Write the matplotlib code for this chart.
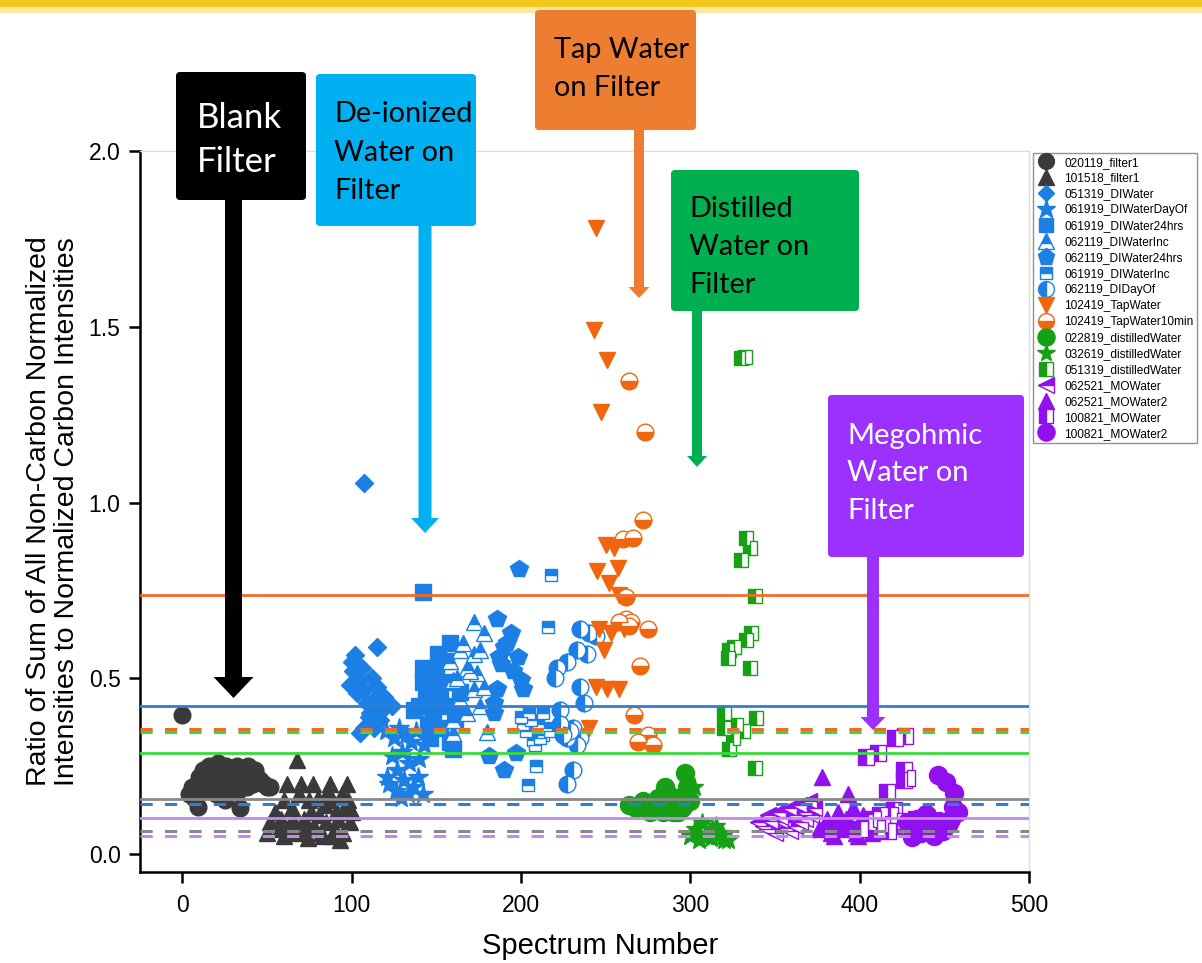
import matplotlib
matplotlib.use("Agg")
import matplotlib.pyplot as plt
from matplotlib.patches import FancyBboxPatch, FancyArrow, Rectangle

# ---------------- data ----------------
labels = ["020119_filter1", "101518_filter1", "051319_DIWater", "061919_DIWaterDayOf",
          "061919_DIWater24hrs", "062119_DIWaterInc", "062119_DIWater24hrs", "061919_DIWaterInc",
          "062119_DIDayOf", "102419_TapWater", "102419_TapWater10min", "022819_distilledWater",
          "032619_distilledWater", "051319_distilledWater", "062521_MOWater", "062521_MOWater2",
          "100821_MOWater", "100821_MOWater2"]

x1 = [0, 4, 6, 7, 9, 10, 11, 12, 13, 14, 15, 16, 17, 18, 19, 20, 21, 22, 23, 24, 25, 26, 27, 28, 29,
      31, 32, 33, 34, 35, 36, 37, 38, 39, 40, 41, 42, 43, 44, 46, 48, 50, 52]
y1 = [0.395, 0.17, 0.19, 0.16, 0.135, 0.22, 0.20, 0.24, 0.18, 0.23, 0.21, 0.25, 0.19, 0.22, 0.24, 0.17,
      0.26, 0.20, 0.23, 0.21, 0.155, 0.25, 0.22, 0.19, 0.24, 0.21, 0.25, 0.18, 0.13, 0.20, 0.24, 0.22,
      0.19, 0.25, 0.21, 0.23, 0.20, 0.24, 0.22, 0.21, 0.20, 0.19, 0.19]

x2 = [50, 52, 55, 57, 58, 60, 62, 63, 65, 67, 68, 69, 70, 72, 73, 75, 76, 77, 78, 80, 81, 82, 84, 85,
      86, 87, 88, 90, 91, 92, 94, 95, 96, 97, 98, 99, 100, 60, 66, 74, 83, 89, 93]
y2 = [0.06, 0.09, 0.12, 0.07, 0.10, 0.155, 0.20, 0.08, 0.13, 0.06, 0.268, 0.17, 0.20, 0.10, 0.07, 0.155,
      0.12, 0.20, 0.08, 0.16, 0.11, 0.06, 0.14, 0.09, 0.18, 0.20, 0.155, 0.07, 0.12, 0.10, 0.17, 0.06,
      0.13, 0.20, 0.155, 0.09, 0.12, 0.05, 0.09, 0.045, 0.05, 0.05, 0.04]

x3 = [107, 102, 115, 101, 104, 107, 103, 115, 119, 121, 109, 111, 117, 107, 105, 113, 100, 112, 118,
      110, 124, 99, 106, 114]
y3 = [1.055, 0.566, 0.59, 0.52, 0.495, 0.466, 0.458, 0.475, 0.447, 0.43, 0.43, 0.40, 0.38, 0.36, 0.344,
      0.36, 0.545, 0.50, 0.41, 0.39, 0.42, 0.48, 0.53, 0.44]

x4 = [120, 125, 128, 132, 135, 138, 124, 130, 127, 134, 140, 122, 126, 131, 136, 142, 129, 121, 139, 133, 143]
y4 = [0.35, 0.33, 0.36, 0.34, 0.32, 0.35, 0.28, 0.29, 0.24, 0.26, 0.27, 0.20, 0.18, 0.21, 0.19, 0.17,
      0.16, 0.22, 0.22, 0.17, 0.31]

x5 = [142, 158, 142, 156, 142, 146, 152, 140, 148, 145, 152, 146, 158, 160, 162, 164, 154, 150, 137,
      144, 155, 148, 161, 151]
y5 = [0.745, 0.60, 0.53, 0.55, 0.49, 0.46, 0.45, 0.42, 0.40, 0.37, 0.36, 0.33, 0.32, 0.30, 0.41, 0.46,
      0.49, 0.52, 0.41, 0.44, 0.42, 0.50, 0.38, 0.57]

x6 = [172, 178, 164, 172, 176, 168, 174, 160, 172, 164, 178, 160, 160, 180, 170, 166, 158, 176, 168, 162]
y6 = [0.66, 0.63, 0.58, 0.57, 0.58, 0.53, 0.515, 0.495, 0.47, 0.44, 0.475, 0.38, 0.345, 0.347, 0.52,
      0.60, 0.55, 0.42, 0.40, 0.50]

x7 = [199, 186, 194, 190, 198, 188, 195, 200, 201, 186, 184, 184, 181, 190, 197, 192, 187]
y7 = [0.81, 0.67, 0.63, 0.59, 0.56, 0.54, 0.52, 0.495, 0.47, 0.47, 0.43, 0.40, 0.28, 0.24, 0.287, 0.60, 0.56]

x8 = [218, 216, 205, 213, 203, 207, 213, 209, 204, 201, 210, 215, 206, 211, 217, 208, 200]
y8 = [0.795, 0.646, 0.40, 0.40, 0.35, 0.325, 0.34, 0.25, 0.197, 0.37, 0.37, 0.36, 0.38, 0.33, 0.35,
      0.31, 0.39]

x9 = [235, 239, 233, 227, 221, 220, 235, 237, 223, 223, 227, 231, 235, 231, 227, 240, 244, 229, 225, 233]
y9 = [0.64, 0.57, 0.58, 0.545, 0.53, 0.50, 0.475, 0.43, 0.41, 0.37, 0.33, 0.36, 0.33, 0.24, 0.20, 0.63,
      0.62, 0.35, 0.34, 0.31]

x10 = [244, 243, 251, 247, 250, 255, 245, 257, 252, 258, 246, 253, 261, 249, 244, 251, 258, 240]
y10 = [1.78, 1.49, 1.405, 1.257, 0.88, 0.87, 0.805, 0.815, 0.77, 0.737, 0.64, 0.63, 0.64, 0.58, 0.475,
       0.47, 0.47, 0.36]

x11 = [264, 273, 272, 260, 266, 262, 265, 275, 270, 267, 275, 278, 269, 264, 258, 262]
y11 = [1.345, 1.2, 0.95, 0.895, 0.90, 0.67, 0.66, 0.64, 0.535, 0.395, 0.34, 0.31, 0.32, 0.65, 0.66, 0.73]

x12 = [297, 285, 298, 282, 288, 292, 295, 300, 279, 284, 290, 296, 287, 293, 281, 264, 268, 272, 276]
y12 = [0.23, 0.19, 0.19, 0.15, 0.14, 0.16, 0.13, 0.15, 0.13, 0.12, 0.12, 0.14, 0.17, 0.12, 0.16,
       0.14, 0.13, 0.15, 0.12]

x13 = [302, 300, 304, 307, 310, 313, 316, 318, 320, 305, 309, 312, 315, 319, 322, 303, 311]
y13 = [0.19, 0.05, 0.06, 0.088, 0.05, 0.07, 0.05, 0.06, 0.04, 0.04, 0.06, 0.045, 0.08, 0.05, 0.04,
       0.07, 0.055]

x14 = [330, 332, 333, 335, 330, 338, 336, 333, 323, 326, 322, 335, 320, 339, 320, 327, 331, 323, 338, 325]
y14 = [1.41, 1.415, 0.90, 0.87, 0.836, 0.735, 0.63, 0.61, 0.58, 0.59, 0.557, 0.53, 0.40, 0.387, 0.36,
       0.367, 0.35, 0.30, 0.245, 0.33]

x15 = [340, 343, 346, 349, 352, 355, 358, 361, 364, 367, 370, 373, 345, 350, 356, 362, 368, 347, 353,
       359, 365, 371]
y15 = [0.09, 0.08, 0.11, 0.10, 0.12, 0.09, 0.13, 0.11, 0.14, 0.12, 0.15, 0.13, 0.07, 0.06, 0.075, 0.08,
       0.10, 0.095, 0.105, 0.065, 0.09, 0.11]

x16 = [378, 393, 376, 380, 383, 386, 389, 392, 395, 398, 401, 404, 407, 410, 381, 387, 396, 402, 408, 385, 399]
y16 = [0.219, 0.17, 0.07, 0.08, 0.06, 0.09, 0.07, 0.10, 0.08, 0.06, 0.09, 0.07, 0.06, 0.08, 0.10, 0.12,
       0.13, 0.11, 0.10, 0.05, 0.05]

x17 = [421, 427, 404, 411, 426, 426, 428, 416, 420, 412, 405, 408, 415, 418, 422, 425, 430, 433, 400, 410, 417]
y17 = [0.33, 0.335, 0.277, 0.287, 0.24, 0.21, 0.215, 0.177, 0.125, 0.11, 0.09, 0.10, 0.085, 0.11, 0.095,
       0.08, 0.09, 0.10, 0.07, 0.075, 0.065]

x18 = [446, 451, 456, 455, 453, 431, 428, 434, 437, 440, 443, 447, 450, 454, 458, 436, 444, 449, 433, 439]
y18 = [0.225, 0.205, 0.173, 0.134, 0.088, 0.048, 0.09, 0.10, 0.085, 0.11, 0.07, 0.095, 0.08, 0.10, 0.12,
       0.06, 0.05, 0.065, 0.075, 0.115]

# horizontal reference lines
solid_levels = [0.737, 0.421, 0.287, 0.156, 0.102]
dashed_levels = [0.356, 0.347, 0.142, 0.065, 0.051]

xticks = [0, 100, 200, 300, 400, 500]
yticks = [0.0, 0.5, 1.0, 1.5, 2.0]

# ---------------- style ----------------
DARK = '#3a3a3a'
BLUE = '#1c7fe6'
ORANGE = '#f0660f'
GREEN = '#16a016'
PURPLE = '#9010f0'

solid_colors = ['#f06a28', '#2f7fd0', '#3cd93c', '#888888', '#c58ae8']
dashed_colors = ['#f06a28', '#3cd93c', '#2f7fd0', '#888888', '#c58ae8']

series = [
    (x1, y1, DARK, 'o', 'full', 12),
    (x2, y2, DARK, '^', 'full', 12),
    (x3, y3, BLUE, 'D', 'full', 9),
    (x4, y4, BLUE, '*', 'full', 15),
    (x5, y5, BLUE, 's', 'full', 11),
    (x6, y6, BLUE, '^', 'top', 12),
    (x7, y7, BLUE, 'p', 'full', 13),
    (x8, y8, BLUE, 's', 'top', 9),
    (x9, y9, BLUE, 'o', 'left', 12),
    (x10, y10, ORANGE, 'v', 'full', 12),
    (x11, y11, ORANGE, 'o', 'bottom', 12),
    (x12, y12, GREEN, 'o', 'full', 13),
    (x13, y13, GREEN, '*', 'full', 14),
    (x14, y14, GREEN, 's', 'left', 10),
    (x15, y15, PURPLE, '<', 'top', 12),
    (x16, y16, PURPLE, '^', 'full', 12),
    (x17, y17, PURPLE, 's', 'left', 11),
    (x18, y18, PURPLE, 'o', 'full', 13),
]

W, H = 1202, 963
fig = plt.figure(figsize=(W / 100, H / 100), dpi=100)
fig.patch.set_facecolor('white')
plt.rcParams['font.family'] = ['Liberation Sans', 'DejaVu Sans']

L, R, T, B = 140, 1029, 151, 872
ax = fig.add_axes([L / W, 1 - B / H, (R - L) / W, (B - T) / H])

handles = []
for (xs, ys, c, m, fs, ms), lab in zip(series, labels):
    h, = ax.plot(xs, ys, ls='none', marker=m, ms=ms, color=c, mfc=c, mec=c, mew=1.0,
                 fillstyle=fs, markerfacecoloralt='white', label=lab, zorder=3)
    handles.append(h)

for v, c in zip(solid_levels, solid_colors):
    ax.axhline(v, color=c, lw=2.0, zorder=4)
for v, c in zip(dashed_levels, dashed_colors):
    ax.axhline(v, color=c, lw=2.2, ls=(0, (4, 4)), zorder=4)

ax.set_xlim(-25, 500)
ax.set_ylim(-0.051, 2.0)
ax.set_xticks(xticks)
ax.set_yticks(yticks)
ax.set_xticklabels([str(t) for t in xticks])
ax.set_yticklabels([f"{t:.1f}" for t in yticks])
ax.tick_params(axis='both', direction='out', length=8, width=1.8, labelsize=16.5, color='black')
ax.tick_params(axis='x', pad=8)
ax.tick_params(axis='y', pad=6)
for s in ['left', 'bottom']:
    ax.spines[s].set_linewidth(1.8)
    ax.spines[s].set_color('black')
for s in ['top', 'right']:
    ax.spines[s].set_linewidth(1.0)
    ax.spines[s].set_color('#dddddd')

ax.set_xlabel('Spectrum Number', fontsize=21)
ax.xaxis.set_label_coords((600 - L) / (R - L), -(932 - B) / (B - T))
ax.set_ylabel('Ratio of Sum of All Non-Carbon Normalized\nIntensities to Normalized Carbon Intensities',
              fontsize=20.5, multialignment='center', linespacing=1.1)
ax.yaxis.set_label_coords(-(L - 80) / (R - L), 0.5)

leg = ax.legend(handles=handles, loc='upper left', bbox_to_anchor=(1033 / W, 1 - 153 / H),
                bbox_transform=fig.transFigure, fontsize=8.6, frameon=True, fancybox=False,
                borderpad=0.3, labelspacing=0.33, handlelength=1.6, handletextpad=0.7,
                borderaxespad=0, markerscale=0.95)
leg.get_frame().set_edgecolor('#777777')
leg.get_frame().set_linewidth(1.0)

# ---------------- overlay annotations ----------------
ov = fig.add_axes([0, 0, 1, 1])
ov.set_xlim(0, W)
ov.set_ylim(H, 0)
ov.axis('off')
ov.set_zorder(10)
ov.patch.set_alpha(0)

ov.add_patch(Rectangle((0, 0), W, 7, color='#f2c81e', lw=0))
ov.add_patch(Rectangle((0, 7), W, 6, color='#fbe9a0', lw=0))

boxes = [
    (176, 72, 306, 200, '#000000', 'white', ['Blank', 'Filter'], [118, 162], 197, 25),
    (316, 74, 476, 226, '#00b0f0', 'black', ['De-ionized', 'Water on', 'Filter'], [114, 153, 191], 334, 20.8),
    (535, 10, 696, 130, '#ed7d31', 'black', ['Tap Water', 'on Filter'], [50, 88], 554, 20.8),
    (671, 170, 859, 311, '#00b050', 'black', ['Distilled', 'Water on', 'Filter'], [209, 247, 285], 689, 20.8),
    (828, 395, 1024, 557, '#9b30ff', 'white', ['Megohmic', 'Water on', 'Filter'], [436, 473, 511], 847, 21),
]
for x0, y0, x1b, y1b, fc, tc, lines, ys_, tx, fsz in boxes:
    ov.add_patch(FancyBboxPatch((x0, y0), x1b - x0, y1b - y0,
                                boxstyle='round,pad=0,rounding_size=4', fc=fc, ec='none'))
    for ln, yy in zip(lines, ys_):
        ov.text(tx, yy, ln, color=tc, fontsize=fsz, va='center', ha='left',
                family=['Lato', 'DejaVu Sans'])

arrows = [
    (233.5, 200, 698, 17, 40, 21, '#000000'),
    (425, 226, 533, 13, 28, 15, '#00b0f0'),
    (639, 130, 298, 10, 21, 11, '#ed7d31'),
    (697, 311, 467, 10, 20, 11, '#00b050'),
    (873, 557, 730, 12, 25, 13, '#9b30ff'),
]
for x, ys0, ye, w, hw, hl, c in arrows:
    ov.add_patch(FancyArrow(x, ys0, 0, ye - ys0, width=w, head_width=hw, head_length=hl,
                            length_includes_head=True, color=c, lw=0))

fig.savefig('out.png', dpi=100)
